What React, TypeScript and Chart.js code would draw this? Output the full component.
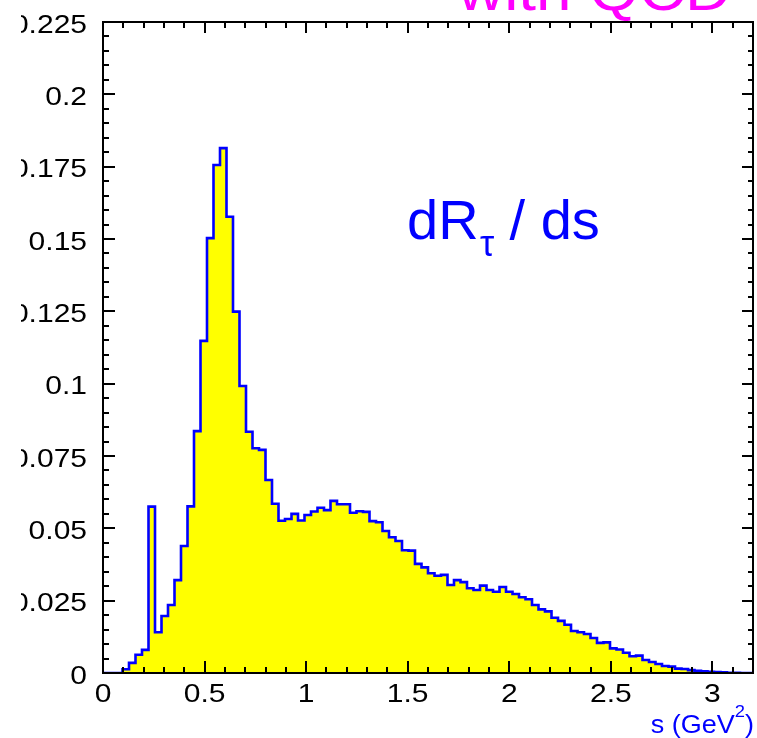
import React, { useEffect, useRef } from "react";
import { Chart, registerables } from "chart.js";

Chart.register(...registerables);

// ---- data ----
const BIN_WIDTH = 0.032;
const X_MIN = 0;
const X_MAX = 3.2;
const Y_MIN = 0;
const Y_MAX = 0.225;

const binValues: number[] = [
  0, 0, 0, 0.0013, 0.0035, 0.0063, 0.008, 0.0575, 0.0141, 0.0197,
  0.0235, 0.0321, 0.0439, 0.0576, 0.0836, 0.1148, 0.1503, 0.1756, 0.1814, 0.1577,
  0.1249, 0.0992, 0.0834, 0.0777, 0.0771, 0.0667, 0.0585, 0.0526, 0.0532, 0.055,
  0.0527, 0.0546, 0.0558, 0.0571, 0.0563, 0.0595, 0.0583, 0.0583, 0.0554, 0.0559,
  0.0557, 0.0525, 0.0521, 0.0491, 0.0469, 0.0456, 0.0424, 0.0423, 0.0377, 0.0365,
  0.0345, 0.0336, 0.0339, 0.0304, 0.0321, 0.0314, 0.0293, 0.0287, 0.0302, 0.0287,
  0.0281, 0.0297, 0.0281, 0.0273, 0.0262, 0.0255, 0.0235, 0.022, 0.0213, 0.0191,
  0.018, 0.0167, 0.0145, 0.0141, 0.0135, 0.0121, 0.0104, 0.0106, 0.0085, 0.0081,
  0.007, 0.0058, 0.006, 0.0045, 0.0038, 0.0031, 0.0024, 0.0022, 0.0015, 0.0014,
  0.001, 0.0008, 0.0006, 0.0004, 0.0003, 0.0002, 0.0001, 0.0001, 0, 0,
];

const xMajorTicks = [0, 0.5, 1, 1.5, 2, 2.5, 3];
const xTickLabels = ["0", "0.5", "1", "1.5", "2", "2.5", "3"];
const X_MINOR_STEP = 0.1;
const yMajorTicks = [0, 0.025, 0.05, 0.075, 0.1, 0.125, 0.15, 0.175, 0.2, 0.225];
const yTickLabels = ["0", "0.025", "0.05", "0.075", "0.1", "0.125", "0.15", "0.175", "0.2", "0.225"];
const Y_MINOR_STEP = 0.005;

const titleText = "with QCD";
const curveLabelMain = "dR";
const curveLabelSub = "τ";
const curveLabelTail = " / ds";
const xTitleMain = "s (GeV";
const xTitleSup = "2";
const xTitleEnd = ")";

const FONT = "'Liberation Sans', Arial, Helvetica, sans-serif";

const framePlugin = {
  id: "rootFrame",
  afterDraw(chart: any) {
    const { ctx, chartArea: ca, scales } = chart;
    const xs = scales.x;
    const ys = scales.y;
    ctx.save();
    // frame
    ctx.strokeStyle = "#000";
    ctx.lineWidth = 2;
    ctx.lineCap = "butt";
    ctx.strokeRect(ca.left, ca.top, ca.right - ca.left, ca.bottom - ca.top);

    // x ticks (bottom and top)
    ctx.beginPath();
    const nx = Math.round((X_MAX - X_MIN) / X_MINOR_STEP);
    for (let k = 0; k <= nx; k++) {
      const v = X_MIN + k * X_MINOR_STEP;
      const px = Math.round(xs.getPixelForValue(v));
      const major = k % 5 === 0;
      ctx.moveTo(px, ca.bottom);
      ctx.lineTo(px, ca.bottom - (major ? 12 : 6));
      ctx.moveTo(px, ca.top);
      ctx.lineTo(px, ca.top + (major ? 11 : 6));
    }
    // y ticks (left and right)
    const ny = Math.round((Y_MAX - Y_MIN) / Y_MINOR_STEP);
    for (let k = 0; k <= ny; k++) {
      const v = Y_MIN + k * Y_MINOR_STEP;
      const py = Math.round(ys.getPixelForValue(v));
      const major = k % 5 === 0;
      ctx.moveTo(ca.left, py);
      ctx.lineTo(ca.left + (major ? 12 : 6), py);
      ctx.moveTo(ca.right, py);
      ctx.lineTo(ca.right - (major ? 11 : 5), py);
    }
    ctx.stroke();

    // tick labels (stretched like the original)
    const SX = 1.2;
    ctx.fillStyle = "#000";
    ctx.font = `25px ${FONT}`;
    ctx.textBaseline = "alphabetic";
    // y labels, clipped at left like the reference
    ctx.save();
    ctx.beginPath();
    ctx.rect(21, 0, chart.width, chart.height);
    ctx.clip();
    ctx.textAlign = "right";
    yMajorTicks.forEach((v, i) => {
      const py = ys.getPixelForValue(v);
      ctx.save();
      ctx.translate(ca.left - 16, py + 10.7);
      ctx.scale(SX, 1);
      ctx.fillText(yTickLabels[i], 0, 0);
      ctx.restore();
    });
    ctx.restore();
    // x labels
    ctx.textAlign = "center";
    xMajorTicks.forEach((v, i) => {
      const px = xs.getPixelForValue(v);
      ctx.save();
      ctx.translate(px, ca.bottom + 29);
      ctx.scale(SX, 1);
      ctx.fillText(xTickLabels[i], 0, 0);
      ctx.restore();
    });

    // title (magenta, clipped at top)
    ctx.save();
    ctx.fillStyle = "#ff00ff";
    ctx.font = `58px ${FONT}`;
    ctx.textAlign = "left";
    const tm = ctx.measureText(titleText);
    const tInk = tm.actualBoundingBoxLeft + tm.actualBoundingBoxRight;
    const tSX = 272 / tInk;
    ctx.translate(457, 9.5);
    ctx.scale(tSX, 1);
    ctx.fillText(titleText, tm.actualBoundingBoxLeft, 0);
    ctx.restore();

    // curve label dR_tau / ds
    ctx.save();
    ctx.fillStyle = "#0000ff";
    ctx.textAlign = "left";
    ctx.font = `56px ${FONT}`;
    ctx.fillText(curveLabelMain, 407, 239);
    ctx.font = `36px ${FONT}`;
    ctx.fillText(curveLabelSub, 480, 256);
    ctx.font = `56px ${FONT}`;
    ctx.fillText(curveLabelTail, 494, 239);
    ctx.restore();

    // x-axis title s (GeV^2)
    ctx.save();
    ctx.fillStyle = "#0000ff";
    ctx.textAlign = "left";
    const XSX = 1.08;
    ctx.font = `25px ${FONT}`;
    const w1 = ctx.measureText(xTitleMain).width;
    const w3 = ctx.measureText(xTitleEnd).width;
    ctx.font = `17px ${FONT}`;
    const w2 = ctx.measureText(xTitleSup).width;
    const total = (w1 + w2 + w3) * XSX;
    ctx.translate(754 - total, 733);
    ctx.scale(XSX, 1);
    ctx.font = `25px ${FONT}`;
    ctx.fillText(xTitleMain, 0, 0);
    ctx.font = `17px ${FONT}`;
    ctx.fillText(xTitleSup, w1, -16);
    ctx.font = `25px ${FONT}`;
    ctx.fillText(xTitleEnd, w1 + w2, 0);
    ctx.restore();

    ctx.restore();
  },
};

export default function App() {
  const canvasRef = useRef<HTMLCanvasElement | null>(null);

  useEffect(() => {
    const canvas = canvasRef.current;
    if (!canvas) return;
    const points = binValues.map((v, i) => ({ x: X_MIN + i * BIN_WIDTH, y: v }));
    points.push({ x: X_MAX, y: binValues[binValues.length - 1] });

    const chart = new Chart(canvas, {
      type: "line",
      data: {
        datasets: [
          {
            data: points,
            stepped: "before",
            fill: "origin",
            backgroundColor: "#ffff00",
            borderColor: "#0000ff",
            borderWidth: 2.6,
            borderJoinStyle: "miter",
            pointRadius: 0,
            tension: 0,
          } as any,
        ],
      },
      options: {
        animation: false,
        responsive: false,
        devicePixelRatio: 1,
        layout: { padding: { left: 103, right: 4, top: 22, bottom: 65 } },
        scales: {
          x: { type: "linear", min: X_MIN, max: X_MAX, display: false },
          y: { type: "linear", min: Y_MIN, max: Y_MAX, display: false },
        },
        plugins: {
          legend: { display: false },
          tooltip: { enabled: false },
        },
        events: [],
      },
      plugins: [framePlugin],
    });
    return () => chart.destroy();
  }, []);

  return (
    <div style={{ position: "absolute", left: 0, top: 0, width: 757, height: 738, background: "#fff" }}>
      <canvas ref={canvasRef} width={757} height={738} style={{ display: "block" }} />
    </div>
  );
}
